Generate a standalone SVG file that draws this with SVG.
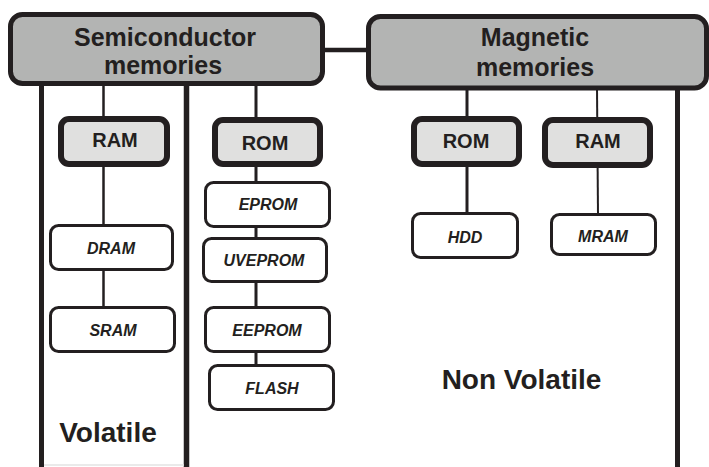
<svg xmlns="http://www.w3.org/2000/svg" width="709" height="467" viewBox="0 0 709 467">
<style>
text{font-family:"Liberation Sans",Arial,sans-serif;font-weight:bold;fill:#231f20;text-anchor:middle}
.big{fill:#b3b4b3;stroke:#231f20;stroke-width:5}
.mid{fill:#e0e0df;stroke:#231f20;stroke-width:6}
.leaf{fill:#fff;stroke:#231f20;stroke-width:3}
.t-big{font-size:25px}
.t-mid{font-size:20px}
.t-leaf{font-size:16px;font-style:italic}
.t-cat{font-size:28px}
.thick{stroke:#231f20;stroke-width:5;fill:none}
.thin{stroke:#231f20;stroke-width:3;fill:none}
</style>
<rect width="709" height="467" fill="#fff"/>
<g id="connectors">
<line class="thick" x1="323" y1="50" x2="368" y2="50" style="stroke-width:4.5"/>
<line class="thick" x1="41.5" y1="84" x2="41.5" y2="467"/>
<line class="thick" x1="186.5" y1="84" x2="186.5" y2="467" style="stroke-width:5.5"/>
<line class="thick" x1="677.5" y1="88" x2="677.5" y2="467"/>
<line class="thin" x1="103.5" y1="84" x2="103.5" y2="307" style="stroke-width:2.5"/>
<line class="thin" x1="256" y1="84" x2="256" y2="366"/>
<line class="thin" x1="467" y1="88" x2="467" y2="214"/>
<line class="thin" x1="597" y1="88" x2="598" y2="215" style="stroke-width:2"/>
<line x1="44" y1="465" x2="184" y2="465" stroke="#e3e3e3" stroke-width="1.5"/>
</g>
<g id="semiconductor">
<rect class="big" x="10.5" y="14.5" width="312" height="69" rx="12"/>
<text class="t-big" x="165" y="46">Semiconductor</text>
<text class="t-big" x="163" y="74">memories</text>
</g>
<g id="magnetic">
<rect class="big" x="368.5" y="16.5" width="338" height="71.5" rx="12"/>
<text class="t-big" x="535" y="46">Magnetic</text>
<text class="t-big" x="535" y="76">memories</text>
</g>
<g id="ram-semi">
<rect class="mid" x="61" y="119" width="106" height="45" rx="8"/>
<text class="t-mid" x="115" y="147">RAM</text>
</g>
<g id="rom-semi">
<rect class="mid" x="215" y="120" width="105" height="44" rx="8"/>
<text class="t-mid" x="265" y="150">ROM</text>
</g>
<g id="rom-mag">
<rect class="mid" x="414" y="119" width="105" height="45" rx="8"/>
<text class="t-mid" x="466" y="148">ROM</text>
</g>
<g id="ram-mag">
<rect class="mid" x="545" y="120" width="105" height="45" rx="8"/>
<text class="t-mid" x="598" y="148">RAM</text>
</g>
<g id="dram">
<rect class="leaf" x="50.5" y="225.5" width="122" height="44" rx="8"/>
<text class="t-leaf" x="111" y="254">DRAM</text>
</g>
<g id="sram">
<rect class="leaf" x="50.5" y="307.5" width="124" height="44" rx="8"/>
<text class="t-leaf" x="113" y="336">SRAM</text>
</g>
<g id="eprom">
<rect class="leaf" x="205.5" y="182.5" width="124" height="44" rx="8"/>
<text class="t-leaf" x="268" y="210">EPROM</text>
</g>
<g id="uveprom">
<rect class="leaf" x="203.5" y="238.5" width="123" height="43" rx="8"/>
<text class="t-leaf" x="264" y="266">UVEPROM</text>
</g>
<g id="eeprom">
<rect class="leaf" x="205.5" y="307.5" width="124" height="44" rx="8"/>
<text class="t-leaf" x="267" y="336">EEPROM</text>
</g>
<g id="flash">
<rect class="leaf" x="209.5" y="365.5" width="124" height="44" rx="8"/>
<text class="t-leaf" x="272" y="394">FLASH</text>
</g>
<g id="hdd">
<rect class="leaf" x="412.5" y="213.5" width="105" height="44" rx="8"/>
<text class="t-leaf" x="465" y="243">HDD</text>
</g>
<g id="mram">
<rect class="leaf" x="551.5" y="214.5" width="104" height="40" rx="8"/>
<text class="t-leaf" x="603" y="242">MRAM</text>
</g>
<g id="volatile">
<text class="t-cat" x="108" y="442">Volatile</text>
</g>
<g id="non-volatile">
<text class="t-cat" x="521.5" y="389">Non Volatile</text>
</g>
</svg>
